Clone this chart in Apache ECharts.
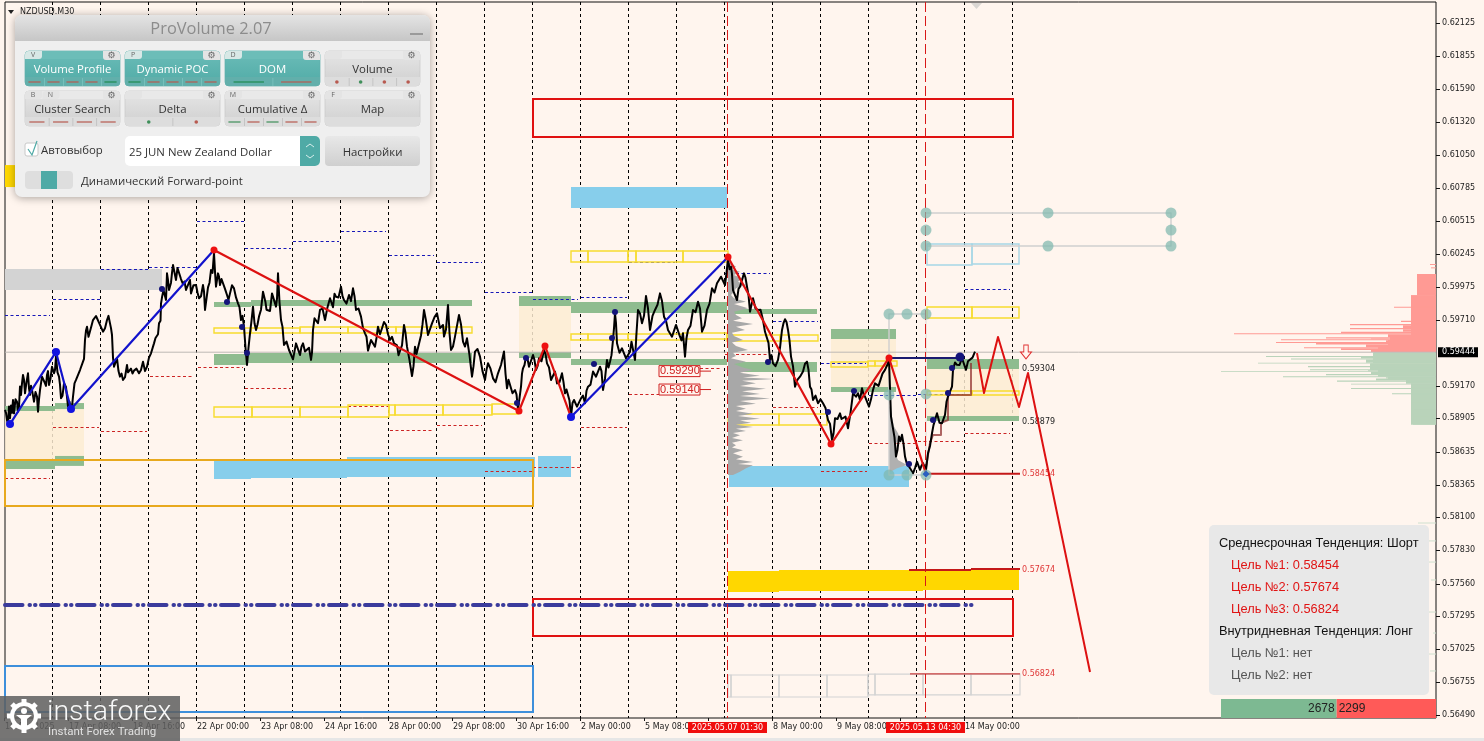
<!DOCTYPE html>
<html><head><meta charset="utf-8">
<style>html,body{margin:0;padding:0;background:#FFF5EE;overflow:hidden}#c{width:1484px;height:741px}</style>
<script src="https://cdn.jsdelivr.net/npm/echarts@6/dist/echarts.min.js"></script>
</head><body><div id="c"></div>
<script>
// ---- axis content ----
const priceTicks=[0.62125,0.61855,0.6159,0.6132,0.6105,0.60785,0.60515,0.60245,0.59975,0.5971,0.5917,0.58905,0.58635,0.58365,0.581,0.5783,0.5756,0.57295,0.57025,0.56755,0.5649];
const timeBars=[0,64,128,192,256,320,384,448,512,576,640,704,768,832,896,960];
const timeLabels=['16 Apr 2025','17 Apr 08:00','18 Apr 16:00','22 Apr 00:00','23 Apr 08:00','24 Apr 16:00','28 Apr 00:00','29 Apr 08:00','30 Apr 16:00','2 May 00:00','5 May 08:00','6 May 16:00','8 May 00:00','9 May 08:00','12 May 16:00','14 May 00:00'];
const separatorBars=[48,96,144,192,240,288,336,384,432,480,528,576,624,672,720,768,816,864,912,960,1008];
const sessionBars=[723,921];
const sessionLabels=['2025.05.07 01:30','2025.05.13 04:30'];
const lastPrice=59444;
// ---- price path (bar index, quote in 1e-5) ----
const tradeBars=[0,3,4,5,8,9,12,14,15,16,18,20,23,25,27,29,32,33,35,37,40,42,44,47,49,51,54,56,59,63,66,68,71,75,78,80,82,85,88,91,95,98,102,105,107,109,112,115,118,122,124,129,134,138,142,146,149,152,154,157,160,162,164,168,171,174,178,181,185,186,191,194,198,200,203,206,209,211,213,215,218,222,225,229,233,236,239,242,245,248,251,254,258,263,267,271,273,276,279,284,288,291,295,298,302,306,308,311,315,320,325,331,336,339,344,348,351,356,360,363,366,370,373,377,381,385,389,395,399,402,407,410,413,419,423,427,432,438,439,443,446,450,454,458,462,467,470,475,480,483,488,493,499,502,505,510,513,516,518,521,524,528,531,534,539,542,546,550,552,557,560,563,566,569,572,576,580,583,588,591,595,598,602,605,608,610,612,617,621,625,628,630,633,637,641,645,650,655,659,663,667,671,675,678,680,683,688,693,697,702,707,712,716,720,723,726,728,732,735,739,742,745,748,753,758,762,765,768,773,777,780,783,786,790,795,798,802,805,808,813,818,823,827,830,835,838,843,848,851,855,857,860,864,868,872,875,880,883,884,886,888,891,894,897,900,904,908,912,915,918,921,923,927,930,932,937,940,943,947,948,952,957,961,965,970];
const tradeQuotes=[58974,58865,59001,58906,59055,58946,59041,59001,59164,59096,59259,59109,59272,59096,59136,59041,59082,58960,59136,59245,59191,59259,59177,59326,59272,59408,59245,59069,59191,59001,58974,59082,59218,59299,59367,59544,59652,59571,59706,59739,59666,59611,59706,59679,59584,59326,59394,59245,59218,59340,59272,59294,59272,59367,59326,59435,59516,59571,59679,59891,59937,60086,59951,60154,60032,60141,59999,59951,60032,59923,59991,59883,59991,59788,59972,60113,60249,59978,60086,59991,60032,59910,59923,59964,59842,59706,59652,59340,59598,59815,59625,59734,59937,59774,59923,59815,60086,59706,59503,59462,59386,59516,59421,59516,59435,59381,59625,59720,59788,59706,59883,59896,59978,59869,59910,59964,59788,59734,59598,59457,59544,59489,59652,59639,59666,59544,59516,59408,59666,59489,59250,59489,59435,59788,59584,59679,59761,59666,59571,59829,59462,59571,59747,59530,59557,59245,59449,59408,59218,59354,59231,59272,59449,59150,59204,59136,58974,59163,59313,59408,59326,59421,59299,59394,59462,59353,59218,59286,59190,59272,59109,59096,58919,59055,59001,59068,59028,59163,59286,59245,59326,59136,59381,59367,59543,59760,59516,59476,59394,59448,59543,59380,59788,59679,59902,59625,59788,59923,59733,59625,59570,59666,59570,59598,59408,59625,59788,59855,59611,59788,59964,60005,60059,59991,60208,60140,59950,59869,59977,60086,59977,59774,59883,59788,59706,59598,59381,59353,59381,59625,59712,59625,59408,59163,59245,59286,59367,59163,59055,59028,59028,58892,58729,58906,58946,58892,58824,59109,59082,59055,59151,59083,59001,59137,59205,59178,59300,59354,59381,58920,58906,58594,58757,58771,58594,58513,58458,58553,58486,58540,58486,58621,58784,58838,58947,58866,58933,59083,59164,59300,59341,59395,59300,59368,59449];
// short swings between the turning points above
const tradeFuzz=[[1,58950],[2,58890],[6,59010],[7,58950],[10.5,59060],[13,58960],[17,59190],[19,59220],[21.5,59200],[24,59150],[26,59170],[28,59120],[30.5,59120],[34,59060],[36,59150],[38.5,59250],[41,59170],[43,59290],[45.5,59230],[48,59340],[50,59300],[52.5,59280],[55,59180],[57.5,59090],[61,59160],[64.5,59040],[67,59000],[69.5,59190],[73,59220],[76.5,59300],[79,59390],[81,59620],[83.5,59570],[86.5,59660],[89.5,59690],[93,59730],[96.5,59660],[100,59640],[103.5,59740],[106,59640],[108,59400],[110.5,59310],[113.5,59290],[116.5,59270],[120,59240],[123,59280],[126,59310],[127.5,59270],[131.5,59310],[136,59300],[140,59290],[144,59400],[147.5,59450],[150.5,59560],[153,59590],[155.5,59700],[156,59840],[158.5,59950],[161,59870],[163,60030],[166,60010],[167,60090],[172.5,60130],[176,60040],[179.5,60020],[183,59960],[188.5,59990],[192.5,59930],[196,59900],[199,59940],[201.5,59880],[204.5,60010],[207.5,60090],[210,60100],[212,59990],[214,60060],[216.5,60040],[220,59960],[223.5,59870],[227,59990],[231,59890],[234.5,59810],[237.5,59740],[240.5,59480],[243.5,59480],[246.5,59700],[249.5,59680],[252.5,59670],[256,59790],[260.5,59850],[261.5,59790],[265,59780],[269,59910],[272,59880],[274.5,59850],[277.5,59650],[281.5,59530],[286,59470],[289.5,59380],[293,59500],[296.5,59490],[300,59450],[304,59480],[307,59440],[309.5,59720],[313,59680],[317.5,59800],[322.5,59810],[328,59810],[329.5,59920],[333.5,59890],[337.5,59900],[341.5,59840],[346,59860],[349.5,59900],[353.5,59800],[358,59640],[361.5,59570],[364.5,59470],[368,59550],[371.5,59560],[375,59590],[379,59690],[383,59590],[387,59570],[392,59500],[393.5,59420],[397,59500],[400.5,59600],[404.5,59380],[408.5,59330],[411.5,59430],[416,59580],[417.5,59670],[421,59700],[425,59590],[429.5,59730],[435,59640],[441,59630],[444.5,59600],[448,59490],[452,59660],[456,59670],[460,59490],[464.5,59420],[468.5,59330],[472.5,59470],[477.5,59290],[481.5,59300],[485.5,59310],[490.5,59200],[496,59340],[500.5,59270],[503.5,59220],[507.5,59110],[511.5,59100],[517,59270],[519.5,59340],[522.5,59390],[526,59340],[529.5,59380],[532.5,59330],[536.5,59370],[540.5,59430],[544,59320],[548,59220],[551,59280],[554.5,59200],[558.5,59200],[561.5,59140],[564.5,59050],[567.5,59030],[570.5,59060],[574,58990],[578,59090],[581.5,59130],[585.5,59180],[589.5,59300],[593,59240],[596.5,59290],[600,59230],[603.5,59320],[606.5,59420],[609,59640],[611,59680],[614.5,59440],[619,59470],[623,59410],[626.5,59530],[631.5,59600],[635,59760],[639,59740],[643,59800],[647.5,59740],[652.5,59830],[657,59860],[661,59700],[665,59640],[669,59580],[673,59650],[676.5,59540],[681.5,59560],[685.5,59660],[690.5,59770],[695,59800],[699.5,59660],[704.5,59840],[709.5,59930],[714,59990],[718,60070],[721.5,60090],[724.5,60120],[727,60080],[730,59960],[733.5,59960],[737,59980],[740.5,60050],[743.5,59910],[746.5,59830],[750.5,59800],[755.5,59790],[760,59610],[763.5,59520],[766.5,59420],[770.5,59330],[775,59480],[778.5,59680],[781.5,59690],[784.5,59540],[788,59330],[792.5,59220],[796.5,59230],[800,59350],[803.5,59300],[806.5,59140],[810.5,59090],[815.5,59060],[820.5,58990],[825,58860],[828.5,58780],[832.5,58900],[836.5,58900],[840.5,58920],[845.5,58950],[849.5,59120],[853,59110],[858.5,59100],[862,59090],[866,59060],[870,59190],[873.5,59170],[877.5,59270],[881.5,59290],[889.5,58750],[892.5,58650],[895.5,58720],[898.5,58700],[902,58530],[906,58510],[910,58500],[913.5,58560],[916.5,58520],[919.5,58530],[925,58680],[928.5,58850],[934.5,58870],[938.5,58870],[941.5,59040],[945,59080],[950,59360],[954.5,59340],[959,59380],[963,59370],[967.5,59400]];
// ---- swing legs ----
const upLegA=[[5,58859],[51,59446],[66,58981],[209,60276]];
const downLegA=[[209,60276],[514,58965],[540,59495],[566,58916]];
const upLegB=[[566,58916],[723,60219]];
const downLegB=[[723,60219],[826,58696],[884,59397],[921,58452]];
const forecastLeg=[[972,59437],[979,59112],[993,59568],[1014,58998],[1023,59275],[1085,56840]];
const navyLevel=[[884,59397],[956,59397]];
const stepPath=[[921,58509],[925,58705],[928,58770],[936,58770],[936,58868],[943,58892],[943,59096],[966,59096],[966,59356]];
const weeklyLine=[[0,57385],[970,57385]];
// ---- zones: bar from, bar to, upper quote, lower quote ----
const greenZones=[[0,50,59006,58965],[50,79,59030,58981],[0,50,58567,58493],[50,79,58599,58518],[209,246,59853,59812],[246,467,59869,59820],[209,243,59429,59340],[243,467,59437,59356],[514,566,59902,59820],[514,566,59446,59397],[566,722,59853,59763],[566,722,59389,59340],[723,812,59796,59755],[723,812,59364,59283],[826,891,59633,59551],[826,891,59161,59120],[922,1014,59389,59307],[922,1014,58925,58884]];
const beigeZones=[[0,50,58965,58567],[50,79,58981,58599],[514,566,59820,59446],[826,891,59551,59161],[922,1014,59307,58925]];
const blueZones=[[209,246,58566,58411],[246,342,58574,58419],[342,530,58591,58428],[533,566,58599,58428],[566,722,60789,60618],[724,904,58517,58346]];
const grayZones=[[0,157,60122,59951]];
const goldZones=[[723,774,57662,57491],[774,918,57670,57499],[918,1014,57679,57508],[0,10,60968,60789]];
const yellowBoxes=[[209,246,59641,59600],[246,295,59641,59600],[295,343,59649,59600],[343,391,59649,59600],[391,439,59649,59600],[439,467,59649,59600],[209,247,58998,58916],[247,295,58998,58916],[295,343,58998,58916],[343,384,59014,58916],[384,390,59014,58933],[390,438,59014,58933],[438,487,59014,58933],[487,513,59022,58941],[566,583,60268,60178],[583,623,60268,60178],[623,631,60268,60178],[631,678,60268,60178],[678,723,60268,60178],[566,583,59592,59543],[583,623,59592,59543],[623,631,59592,59543],[631,678,59592,59543],[678,722,59600,59551],[722,775,59584,59535],[775,813,59584,59535],[723,774,58941,58851],[774,822,58941,58851],[826,863,59364,59324],[863,870,59372,59332],[870,892,59372,59332],[922,967,59812,59722],[967,1014,59812,59722],[922,967,59128,59096],[967,1014,59128,59096]];
const skyBoxes=[[922,967,60325,60154],[967,1014,60325,60162]];
const paleBoxes=[[723,726,56815,56636],[726,774,56815,56636],[774,822,56815,56636],[822,863,56815,56636],[863,870,56823,56653],[870,918,56823,56653],[918,966,56823,56653],[966,1015,56823,56653]];
const redFrames=[[528,1008,61506,61196],[528,1008,57434,57133]];
const orangeFrames=[[0,528,58566,58192]];
const azureFrames=[[0,528,56889,56514]];
// ---- daily high / low dashes: bar from, bar to, quote ----
const dailyHighs=[[0,45,59747],[48,95,59877],[96,144,60122],[144,191,60138],[192,240,60512],[240,286,60293],[288,334,60350],[336,381,60431],[384,429,60236],[432,477,60178],[480,527,59934],[528,573,59877],[576,622,59894],[624,670,60178],[720,765,60089],[768,813,59698],[816,861,59356],[864,912,59096],[913,958,59104],[960,1005,59959]];
const dailyLows=[[0,45,58420],[48,94,58835],[96,142,58802],[145,189,59250],[193,238,59323],[240,286,59153],[343,384,59006],[385,429,58810],[432,477,58851],[480,527,58477],[528,575,58509],[576,622,58835],[624,670,59104],[673,717,59315],[720,765,59429],[768,813,58998],[816,862,58477],[864,912,58705],[913,958,58721],[960,1005,58786]];
// ---- targets ----
const targetLines=[[921,1015,58454,2],[904,966,57670,2],[966,1015,57679,2],[905,1015,56824,1]];
const targetTexts=[[1017,58454,'0.58454'],[1017,57674,'0.57674'],[1017,56824,'0.56824']];
const levelTexts=[[1017,59304,'0.59304'],[1017,58879,'0.58879']];
const boxedLevels=[[673,59290,'0.59290'],[673,59140,'0.59140']];
// ---- pivots ----
const blueBig=[[5,58859],[51,59446],[66,58981],[566,58916]];
const redPivots=[[209,60276],[514,58965],[540,59495],[723,60219],[826,58696],[884,59397]];
const navyDots=[[157,59959],[222,59853],[237,59649],[242,59437],[512,59030],[521,59397],[589,59348],[610,59771],[607,59559],[763,59364],[823,58957],[849,59128],[904,58534],[928,58892],[947,59315],[943,59112]];
const navyBig=[[955,59405]];
const tealDots=[[921,60578],[1043,60578],[1166,60578],[921,60439],[1166,60439],[921,60309],[1043,60309],[1166,60309],[884,59755],[902,59755],[921,59755],[884,59096],[921,59104],[884,58444],[902,58444],[921,58444]];
const tealPathA=[[921,60578],[1166,60578],[1166,60309],[921,60309]];
const tealPathB=[[921,59755],[884,59755],[884,58444],[921,58444]];
const tealPathC=[[921,59755],[921,58444]];
// ---- volume profile rows ----
const profileQuotes=[60168,60140,60119,60100,60073,60045,60018,59991,59964,59937,59910,59883,59855,59836,59801,59774,59747,59720,59701,59674,59652,59625,59603,59576,59543,59522,59495,59462,59440,59413,59394,59367,59348,59321,59299,59277,59253,59239,59226,59212,59191,59169,59147,59125,59104,59087,59066,59047,59025,59006,58984,58965,58943,58925,58903,58887,58870,58854,58835,58821,58802,58786,58767,58745,58726,58707,58686,58667,58645,58621,58593,58572,58550,58534,58523,58498,58471,58444];
const profileDepths=[3,8,4,12,6,14,10,18,8,6,3,6,18,6,20,6,8,14,5,25,8,17,4,6,15,4,8,20,5,8,3,18,6,14,25,12,32,15,47,14,28,12,38,14,32,12,42,12,28,8,18,8,25,10,32,12,23,8,25,8,18,5,12,4,15,4,8,4,15,5,15,8,25,10,25,18,12,5];
const miniQuotes=[59001,58920,58839,58784,58743,58703,58621,58567,58526,58499,58472];
const miniDepths=[1,3,5,9,11,7,6,9,18,8,2];
const askBodyQuotes=[60081,59907,59584,59544,59503,59457,59446];
const askBodyDepths=[19,25,46,48,58,65,0];
const bidBodyQuotes=[59441,59354,59299,59245,59218,59191,58854];
const bidBodyDepths=[63,66,58,48,30,25,0];
const askQuotes=[60162,60154,60135,60127,60081,59924,59907,59820,59815,59807,59701,59690,59674,59663,59641,59630,59611,59598,59590,59565,59555,59549,59541,59527,59519,59506,59484,59476,59462,59451,59446];
const askDepths=[6,0,5,0,19,19,25,25,42,24,35,24,86,33,86,33,95,202,48,110,65,155,50,160,120,70,132,95,65,56,0];
const bidQuotes=[59441,59413,59405,59392,59384,59359,59351,59332,59321,59305,59297,59289,59283,59267,59256,59248,59240,59229,59213,59204,59188,59180,59153,59145,59109,59101,59033,58974,58919,58854];
const bidDepths=[62,170,75,145,70,178,65,128,65,126,68,215,65,110,48,153,50,60,99,30,85,25,85,25,44,25,22,22,23,0];
const stubQuotes=[58053,57907,57735,57589,57328,57157,56986,56848];
const stubDepths=[18,10,18,5,15,3,12,6];
const buyVolume=2678, sellVolume=2299;
const trendLines=[['Среднесрочная Тенденция: Шорт',0,'#111'],['Цель №1: 0.58454',1,'#e01414'],['Цель №2: 0.57674',1,'#e01414'],['Цель №3: 0.56824',1,'#e01414'],['Внутридневная Тенденция: Лонг',0,'#111'],['Цель №1: нет',1,'#555'],['Цель №2: нет',1,'#555']];

// ---- builders ----
const BAR_MAX=1431, Q_MIN=0.56465, Q_MAX=0.62296;
const q=v=>v/1e5;
const crisp=v=>Math.round(v)+0.5;
const pts=a=>a.map(p=>[p[0],q(p[1])]);
const zone=a=>a.map(z=>[z[0],z[1],q(z[2]),q(z[3])]);
function rectSeries(data,style,z){return {type:'custom',z,silent:true,clip:false,data:zone(data),encode:{x:[0,1],y:[2,3]},
  renderItem:(p,api)=>{const a=api.coord([api.value(0),api.value(2)]),b=api.coord([api.value(1),api.value(3)]);
    return {type:'rect',shape:{x:a[0],y:a[1],width:b[0]-a[0],height:b[1]-a[1]},style};}};}
function lineSeries(data,color,width,z,extra){return Object.assign({type:'line',z,silent:true,data:pts(data),symbol:'none',clip:false,lineStyle:{color,width,join:'round'}},extra||{});}
function dashSeries(data,color){return {type:'custom',z:3,silent:true,clip:false,data:data.map(d=>[d[0],d[1],q(d[2])]),encode:{x:[0,1],y:2},
  renderItem:(p,api)=>{const a=api.coord([api.value(0),api.value(2)]),b=api.coord([api.value(1),api.value(2)]),y=crisp(a[1]);
    return {type:'line',shape:{x1:a[0],y1:y,x2:b[0],y2:y},style:{stroke:color,lineWidth:1,lineDash:[3,2.5]}};}};}
function verticalSeries(bars,color,dash,z){return {type:'custom',z,silent:true,clip:false,data:bars.map(b=>[b]),encode:{x:0},
  renderItem:(p,api)=>{const a=api.coord([api.value(0),Q_MAX]),b=api.coord([api.value(0),Q_MIN]),x=crisp(a[0])-1;
    return {type:'line',shape:{x1:x,y1:a[1],x2:x,y2:b[1]},style:{stroke:color,lineWidth:1,lineDash:dash}};}};}
function profileSeries(anchor,quotes,depths,color,z){return {type:'custom',z,silent:true,clip:false,data:[[anchor,q(quotes[0])]],encode:{x:0,y:1},
  renderItem:(p,api)=>{const o=[api.coord([anchor,q(quotes[0])])];quotes.forEach((v,i)=>o.push(api.coord([anchor+depths[i],q(v)])));
    o.push(api.coord([anchor,q(quotes[quotes.length-1])]));return {type:'polygon',shape:{points:o},style:{fill:color}};}};}
function bookSeries(quotes,depths,color,z){const d=[];for(let i=0;i<quotes.length-1;i++)d.push([BAR_MAX-depths[i],BAR_MAX,quotes[i],quotes[i+1]]);return rectSeries(d,{fill:color},z);}
function textSeries(rows,color,z){return {type:'custom',z,silent:true,clip:false,data:rows.map(r=>[r[0],q(r[1]),r[2]]),encode:{x:0,y:1},
  renderItem:(p,api)=>{const a=api.coord([api.value(0),api.value(1)]);
    return {type:'text',style:{x:a[0],y:a[1],text:rows[p.dataIndex][2],fill:color,font:'8px "DejaVu Sans"',verticalAlign:'middle'}};}};}
function dots(data,color,size,z,extra){return Object.assign({type:'scatter',z,silent:true,clip:false,symbol:'circle',symbolSize:size,data:pts(data),itemStyle:{color,opacity:1}},extra||{});}
const tradePath=tradeBars.map((b,i)=>[b,tradeQuotes[i]]).concat(tradeFuzz).sort((a,b)=>a[0]-b[0]);

const series=[
 verticalSeries(separatorBars,'#000',[3,3],1),
 bookSeries(askBodyQuotes,askBodyDepths,'#FF9A94',2),
 bookSeries(bidBodyQuotes,bidBodyDepths,'#B9D3BA',2),
 bookSeries(askQuotes,askDepths,'#FF9A94',2),
 bookSeries(bidQuotes,bidDepths,'#B9D3BA',2),
 {type:'custom',z:2,silent:true,clip:false,data:stubQuotes.map((v,i)=>[BAR_MAX-stubDepths[i],q(v)]),encode:{x:0,y:1},
  renderItem:(p,api)=>{const a=api.coord([api.value(0),api.value(1)]),b=api.coord([BAR_MAX,api.value(1)]);
   return {type:'line',shape:{x1:a[0],y1:a[1],x2:b[0],y2:b[1]},style:{stroke:'#cfe0cf',lineWidth:1}};}},
 rectSeries(beigeZones,{fill:'rgba(253,236,210,0.85)'},2),
 rectSeries(grayZones,{fill:'#D3D3D3'},2),
 rectSeries(greenZones,{fill:'#8FBC8F'},3),
 rectSeries(blueZones,{fill:'#87CEEB'},3),
 rectSeries(goldZones,{fill:'#FFD700'},3),
 rectSeries(yellowBoxes,{fill:'none',stroke:'#F7DC2E',lineWidth:1.4},4),
 rectSeries(skyBoxes,{fill:'none',stroke:'#A6D6E6',lineWidth:1.4},4),
 rectSeries(paleBoxes,{fill:'none',stroke:'#D3D3D3',lineWidth:1.2},4),
 rectSeries(redFrames,{fill:'none',stroke:'#E01010',lineWidth:2},4),
 rectSeries(orangeFrames,{fill:'none',stroke:'#E8A91E',lineWidth:2},4),
 rectSeries(azureFrames,{fill:'none',stroke:'#3D8FDB',lineWidth:2},4),
 dashSeries(dailyHighs,'#1818B8'),
 dashSeries(dailyLows,'#CC2424'),
 profileSeries(723,profileQuotes,profileDepths,'#A8A8A8',5),
 profileSeries(884,miniQuotes,miniDepths,'#B0B0B0',5),
 lineSeries(weeklyLine,'#3B3B9C',4,5,{lineStyle:{color:'#3B3B9C',width:4,cap:'round',type:[17.5,7,0.5,5,0.5,5.5]}}),
 lineSeries(tealPathA,'#CFCFCF',1.4,5),
 lineSeries(tealPathB,'#CFCFCF',1.4,5),
 lineSeries(tealPathC,'rgba(210,205,200,0.5)',1.4,5),
 verticalSeries(sessionBars,'#D81818',[10,4],6),
 {type:'line',z:3,silent:true,symbol:'none',clip:false,data:[[0,q(lastPrice)],[BAR_MAX,q(lastPrice)]],lineStyle:{color:'#BDB8B4',width:1}},
 {type:'custom',z:6,silent:true,clip:false,data:targetLines.map(t=>[t[0],t[1],q(t[2]),t[3]]),encode:{x:[0,1],y:2},
  renderItem:(p,api)=>{const a=api.coord([api.value(0),api.value(2)]),b=api.coord([api.value(1),api.value(2)]);
   return {type:'line',shape:{x1:a[0],y1:a[1],x2:b[0],y2:b[1]},style:{stroke:'#C41818',lineWidth:api.value(3)}};}},
 lineSeries(stepPath,'rgba(140,40,40,0.7)',2,7),
 lineSeries(tradePath,'#000',2,8),
 lineSeries(navyLevel,'#1A1A70',2,9),
 lineSeries(upLegA,'#1212CC',2.2,9),
 lineSeries(upLegB,'#1212CC',2.2,9),
 lineSeries(downLegA,'#DD1111',2.2,9),
 lineSeries(downLegB,'#DD1111',2.2,9),
 lineSeries(forecastLeg,'#DD1111',2,9),
 dots(navyDots,'#14147A',6,10),
 dots(navyBig,'#14147A',9,10),
 dots(tealDots,'rgba(128,184,174,0.72)',11,11),
 dots(blueBig,'#1212E0',8,11),
 dots(redPivots,'#EE1111',7,11),
 dots([[921,58452]],'#2A5FC0',7,12,{symbol:'diamond'}),
 {type:'scatter',z:12,silent:true,clip:false,data:pts([[1021,59446]]),symbol:'path://M6 0H14V10H20L10 20L0 10H6Z',symbolSize:[11,14],itemStyle:{color:'#FFF5EE',borderColor:'#E03030',borderWidth:1,opacity:1}},
 textSeries(targetTexts,'#E03838',9),
 textSeries(levelTexts,'#222',9),
 {type:'custom',z:12,silent:true,clip:false,data:boxedLevels.map(r=>[r[0],q(r[1])]),encode:{x:0,y:1},
  renderItem:(p,api)=>{const a=api.coord([api.value(0),api.value(1)]);
   return {type:'group',children:[
    {type:'rect',shape:{x:a[0]-19,y:a[1]-5.5,width:41,height:11},style:{fill:'#FFF5EE',stroke:'#D02020',lineWidth:1}},
    {type:'line',shape:{x1:a[0]+22,y1:a[1],x2:a[0]+33,y2:a[1]},style:{stroke:'#D02020',lineWidth:1}},
    {type:'text',style:{x:a[0]-18,y:a[1],text:boxedLevels[p.dataIndex][2],fill:'#D02020',font:'11px "Liberation Sans"',verticalAlign:'middle'}}]};}},
 {type:'custom',z:13,silent:true,clip:false,data:sessionBars.map(b=>[b]),encode:{x:0},
  renderItem:(p,api)=>{const a=api.coord([api.value(0),Q_MIN]);
   return {type:'group',children:[
    {type:'rect',shape:{x:a[0]-40,y:a[1]+4,width:79,height:11},style:{fill:'#F00D0D'}},
    {type:'text',style:{x:a[0]-0.5,y:a[1]+9.5,text:sessionLabels[p.dataIndex],fill:'#fff',font:'8px "DejaVu Sans"',align:'center',verticalAlign:'middle'}}]};}},
 {type:'custom',z:13,silent:true,clip:false,data:[[BAR_MAX,q(lastPrice)]],encode:{x:0,y:1},
  renderItem:(p,api)=>{const a=api.coord([api.value(0),api.value(1)]);
   return {type:'group',children:[
    {type:'rect',shape:{x:a[0]+2,y:a[1]-5,width:40,height:10},style:{fill:'#000'}},
    {type:'text',style:{x:a[0]+6,y:a[1],text:(lastPrice/1e5).toFixed(5),fill:'#fff',font:'8px "DejaVu Sans"',verticalAlign:'middle'}}]};}},
 {type:'custom',z:2,silent:true,clip:false,data:priceTicks.map(v=>[BAR_MAX,v]),encode:{x:0,y:1},
  renderItem:(p,api)=>{const a=api.coord([api.value(0),api.value(1)]),y=crisp(a[1]);
   return {type:'line',shape:{x1:a[0],y1:y,x2:a[0]+4,y2:y},style:{stroke:'#111',lineWidth:1}};}},
 {type:'custom',z:2,silent:true,clip:false,data:timeBars.map(b=>[b]),encode:{x:0},
  renderItem:(p,api)=>{const a=api.coord([api.value(0),Q_MIN]),x=crisp(a[0])-1;
   return {type:'line',shape:{x1:x,y1:a[1],x2:x,y2:a[1]+3},style:{stroke:'#111',lineWidth:1}};}},
 {type:'custom',z:12,silent:true,clip:false,data:[[sellVolume,buyVolume]],encode:{x:0},
  renderItem:(p,api)=>{const k=0.0432,s=sellVolume*k,b=buyVolume*k,top=0.5662,
    r0=api.coord([BAR_MAX-s-b,top]),r1=api.coord([BAR_MAX-s,Q_MIN]),r2=api.coord([BAR_MAX,Q_MIN]);
   return {type:'group',children:[
    {type:'rect',shape:{x:r0[0],y:r0[1],width:r1[0]-r0[0],height:r1[1]-r0[1]},style:{fill:'#7DB992'}},
    {type:'rect',shape:{x:r1[0],y:r0[1],width:r2[0]-r1[0],height:r1[1]-r0[1]},style:{fill:'#FF5A58'}},
    {type:'text',style:{x:r1[0]-2,y:(r0[1]+r1[1])/2,text:String(buyVolume),fill:'#222',font:'12px "Liberation Sans"',align:'right',verticalAlign:'middle'}},
    {type:'text',style:{x:r1[0]+2,y:(r0[1]+r1[1])/2,text:String(sellVolume),fill:'#222',font:'12px "Liberation Sans"',verticalAlign:'middle'}}]};}}
];

// ---- overlay widgets ----
const UI='"Open Sans"';
const UF='11.4px '+UI;
const g=[];
const R=(x,y,w,h,fill,r,extra)=>g.push(Object.assign({type:'rect',z:100,silent:true,shape:{x,y,width:w,height:h,r:r||0},style:{fill}},extra||{}));
const T=(x,y,text,font,fill,align,extra)=>g.push({type:'text',z:101,silent:true,style:Object.assign({x,y,text,font,fill,align:align||'left',verticalAlign:'middle'},extra||{})});
const vg=(a,b)=>({type:'linear',x:0,y:0,x2:0,y2:1,colorStops:[{offset:0,color:a},{offset:1,color:b}]});
T(20,12,'NZDUSD.M30','8px "DejaVu Sans"','#222');
g.push({type:'polygon',z:101,silent:true,shape:{points:[[8,10],[14,10],[11,14]]},style:{fill:'#222'}});
g.push({type:'polygon',z:101,silent:true,shape:{points:[[971,3],[982,3],[976.5,9]]},style:{fill:'#DAD6D2'}});
R(15,15,415,182,'#EFEFEF',7,{style:{fill:'#EFEFEF',shadowBlur:8,shadowColor:'rgba(0,0,0,0.35)',shadowOffsetY:1}});
R(15,15,415,26,vg('#E4E4E4','#C6C6C6'),[7,7,0,0]);
T(211,29.5,'ProVolume 2.07','16.4px '+UI,'#8C8C8C','center');
R(410,33,13,2,'#9A9A9A');
const RED='#B85A50',GRN='#3F8F5A';
const btns=[
 [25,51,'Volume Profile',1,['V'],'line',[RED,RED,RED,RED,GRN]],
 [125,51,'Dynamic POC',1,['P'],'line',[GRN,RED,RED,RED,RED]],
 [225,51,'DOM',1,['D'],'line',[GRN,RED]],
 [325,51,'Volume',0,[''],'dot',[RED,GRN,RED,RED]],
 [25,91,'Cluster Search',0,['B','N'],'line',[RED,RED,RED,RED]],
 [125,91,'Delta',0,[''],'dot',[GRN,RED]],
 [225,91,'Cumulative Δ',0,['M'],'line',[GRN,RED,GRN,RED,RED]],
 [325,91,'Map',0,['F'],'none',[]]
];
btns.forEach(b=>{const [x,y,label,on,tags,kind,marks]=b,w=95,h=35;
 R(x,y,w,h,on?vg('#6CBDB8','#4FAAA6'):vg('#E6E6E6','#CFCFCF'),4,{style:{fill:on?vg('#6CBDB8','#4FAAA6'):vg('#E6E6E6','#CFCFCF'),stroke:on?'#5FB0AC':'#C8C8C8',lineWidth:.7}});
 R(x+.5,y,w-1,8,on?'#6CBDB8':'#E9E9E9',[4,4,0,0]);
 R(x,y+26,w,9,on?'#62AFAB':'#DDDDDD',[0,0,4,4]);
 R(x+w-17,y,17,9,'#E4E4E4',[0,4,0,3]);
 T(x+w-8.5,y+4.5,'⚙','9px "DejaVu Sans"','#666','center');
 tags.forEach((t,i)=>{R(x+i*17.5,y,17,8,on?'#D8E8E6':'#E4E4E4',[4,0,3,0]);if(t)T(x+i*17.5+8,y+4,t,'7px '+UI,'#666','center');});
 T(x+w/2,y+18.5,label,UF,on?'#fff':'#333','center');
 const n=marks.length;marks.forEach((c,i)=>{const sw=w/n,cx=x+sw*(i+.5),cy=y+31;
  if(i>0)R(x+sw*i,y+27,.8,8,on?'#7CC4BF':'#BEBEBE');
  if(kind==='line')R(cx-sw*.32,cy-.6,sw*.64,1.2,on&&c===GRN?'#1F8A50':c);
  else g.push({type:'circle',z:101,silent:true,shape:{cx,cy,r:1.8},style:{fill:c}});});
});
R(25,143,13,13,'#fff',2,{style:{fill:'#fff',stroke:'#C8C8C8',lineWidth:1}});
g.push({type:'polyline',z:101,silent:true,shape:{points:[[28,149],[32,155],[37,141]]},style:{stroke:'#4FAAA6',lineWidth:1.2,fill:'none'}});
T(41,150.5,'Автовыбор',UF,'#333');
R(125,136,195,30,'#fff',5);
R(300,136,20,30,'#4FAAA6',[0,5,5,0]);
g.push({type:'polyline',z:101,silent:true,shape:{points:[[306,147],[310,144],[314,147]]},style:{stroke:'#D8EEEC',lineWidth:1,fill:'none'}});
g.push({type:'polyline',z:101,silent:true,shape:{points:[[306,155],[310,158],[314,155]]},style:{stroke:'#D8EEEC',lineWidth:1,fill:'none'}});
T(129,152.5,'25 JUN New Zealand Dollar',UF,'#333');
R(325,136,95,30,vg('#E8E8E8','#CFCFCF'),4);
T(372.5,152.5,'Настройки',UF,'#333','center');
R(25,171,48,18,'#DEDEDE',4);
R(41,171,16,18,'#4FAAA6');
T(81,181.5,'Динамический Forward-point',UF,'#333');
R(1209,525,220,170,'#E8E8E8',5);
trendLines.forEach((t,i)=>T(t[1]?1231:1219,543.7+i*22,t[0],'12.8px "Liberation Sans"',t[2]));
R(0,738,1484,3,'#E6E6E6');
R(0,696,180,45,'rgba(96,96,96,0.86)');
const cx=24,cy=716;
g.push({type:'circle',z:101,silent:true,shape:{cx,cy,r:12},style:{fill:'none',stroke:'#fff',lineWidth:4}});
for(let i=0;i<8;i++){g.push({type:'rect',z:101,silent:true,shape:{x:cx-2.5,y:cy-17,width:5,height:5},originX:cx,originY:cy,rotation:i*Math.PI/4,style:{fill:'#fff'}});}
g.push({type:'circle',z:101,silent:true,shape:{cx,cy:cy-5,r:3},style:{fill:'#fff'}});
g.push({type:'polygon',z:101,silent:true,shape:{points:[[cx-8,cy-1],[cx+8,cy-1],[cx+3,cy+3],[cx+3,cy+10],[cx-3,cy+10],[cx-3,cy+3]]},style:{fill:'#fff'}});
T(47,713,'instaforex','','rgba(255,255,255,0.95)','left',{font:null,fontFamily:'Roboto',fontSize:28.5,fontWeight:300});
T(48,732,'Instant Forex Trading','11.5px Roboto','rgba(235,235,235,0.9)');

const chart=echarts.init(document.getElementById('c'),null,{renderer:'canvas'});
chart.setOption({
 animation:false,backgroundColor:'#FFF5EE',
 grid:{left:5,top:2,width:BAR_MAX,height:716,show:true,borderColor:'#111',borderWidth:1,backgroundColor:'transparent'},
 xAxis:{type:'value',min:0,max:BAR_MAX,splitLine:{show:false},axisLine:{show:false},axisTick:{show:false},
  axisLabel:{show:true,customValues:timeBars,align:'left',margin:5,color:'#222',fontFamily:'DejaVu Sans',fontSize:8,
   formatter:v=>timeLabels[timeBars.indexOf(v)]||''}},
 yAxis:{type:'value',position:'right',min:Q_MIN,max:Q_MAX,splitLine:{show:false},axisLine:{show:false},axisTick:{show:false},
  axisLabel:{show:true,customValues:priceTicks,margin:6,color:'#222',fontFamily:'DejaVu Sans',fontSize:8,formatter:v=>v.toFixed(5)}},
 series,
 graphic:{elements:g}
});
</script></body></html>
